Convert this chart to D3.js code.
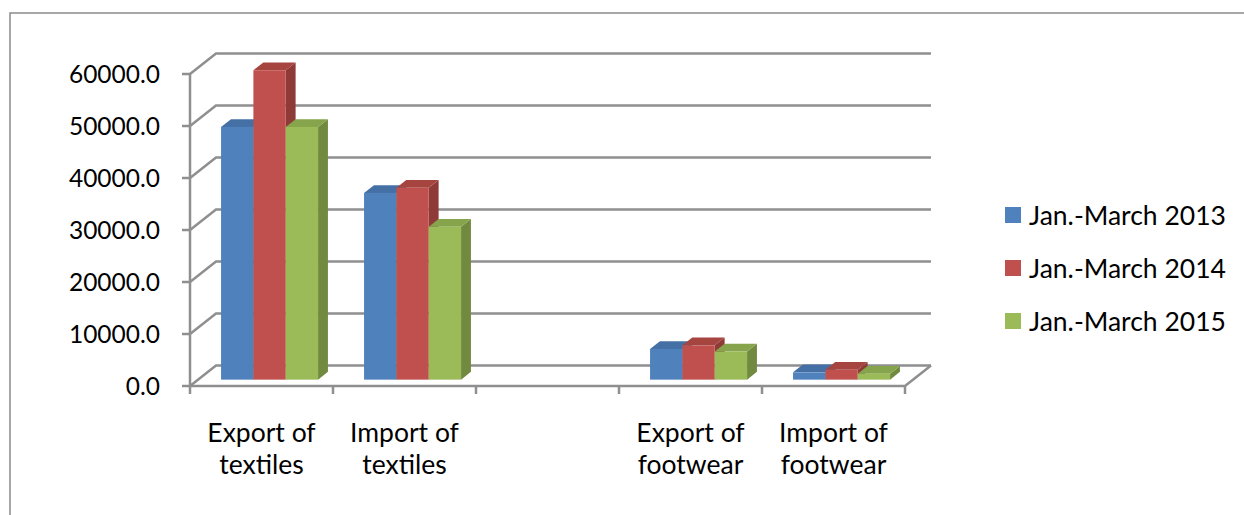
<!DOCTYPE html>
<html>
<head>
<meta charset="utf-8">
<script src="https://cdn.jsdelivr.net/npm/d3@7"></script>
<style>
  html, body { margin: 0; padding: 0; background: #fff; }
  svg { display: block; }
  text { font-family: Lato, "Open Sans", sans-serif; fill: #000; }
</style>
</head>
<body>
<svg id="chart" width="1244" height="515"></svg>
<script>
// Category slots along the floor (the empty slot is left blank)
const categories = ["Export of\ntextiles", "Import of\ntextiles", "", "Export of\nfootwear", "Import of\nfootwear"];
const seriesNames = ["Jan.-March 2013", "Jan.-March 2014", "Jan.-March 2015"];
const values2013 = [48600, 35900, null, 5900, 1400];
const values2014 = [59500, 36900, null, 6600, 1900];
const values2015 = [48600, 29400, null, 5400, 1150];
const yTicks = [0, 10000, 20000, 30000, 40000, 50000, 60000];

const frontColors = ["#4F81BD", "#C0504D", "#9BBB59"];
const sideColors  = ["#3A6393", "#8E3A37", "#718A3F"];
const topColors   = ["#4470A6", "#A64440", "#86A44B"];
const gridColor = "#8f8f8f";

const svg = d3.select("#chart");

// Outer frame
svg.append("path")
  .attr("d", "M10,530 L10,13 L1260,13")
  .attr("fill", "none").attr("stroke", "#8a8a8a").attr("stroke-width", 1.5);

// Scales
const x = d3.scaleBand().domain(d3.range(categories.length)).range([190, 905]);
const y = d3.scaleLinear().domain([0, 60000]).range([386, 74]);
const inner = d3.scaleBand().domain(d3.range(seriesNames.length)).range([0, 97]);

// Oblique depth projection: depth 0 = front, 1 = back wall
const DX = 26, DY = -20.5;
const off = t => [DX * t, DY * t];
const barDepth = [0.31, 0.69];

const g = svg.append("g");

// Back wall gridlines with their left-wall diagonals
yTicks.forEach(v => {
  const yy = y(v);
  const [bx, by] = off(1);
  g.append("path")
    .attr("d", `M190,${yy} L${190 + bx},${yy + by} L${x.range()[1] + bx},${yy + by}`)
    .attr("fill", "none").attr("stroke", gridColor).attr("stroke-width", 2.5);
});

// Floor: front edge and right diagonal
{
  const [bx, by] = off(1);
  const x1 = x.range()[1];
  g.append("path")
    .attr("d", `M190,${y(0)} L${x1},${y(0)} L${x1 + bx},${y(0) + by}`)
    .attr("fill", "none").attr("stroke", gridColor).attr("stroke-width", 2.5);
}

// Vertical axis line and ticks
g.append("line")
  .attr("x1", 190).attr("x2", 190).attr("y1", y(60000)).attr("y2", y(0))
  .attr("stroke", gridColor).attr("stroke-width", 2.5);
yTicks.forEach(v => {
  g.append("line")
    .attr("x1", 182).attr("x2", 190).attr("y1", y(v)).attr("y2", y(v))
    .attr("stroke", gridColor).attr("stroke-width", 2.5);
  svg.append("text")
    .attr("x", 160).attr("y", y(v)).attr("dy", "0.36em")
    .attr("text-anchor", "end").attr("font-size", 24.5)
    .text(d3.format(".1f")(v));
});

// Category ticks along the front edge of the floor
const bounds = categories.map((c, i) => x(i)).concat([x.range()[1]]);
bounds.forEach(bx => {
  g.append("line")
    .attr("x1", bx).attr("x2", bx).attr("y1", y(0)).attr("y2", y(0) + 8)
    .attr("stroke", gridColor).attr("stroke-width", 2.5);
});

// Bars as prisms: front face, top face, right side face
const allSeries = [values2013, values2014, values2015];
const [fx, fy] = off(barDepth[0]);
const [rx, ry] = off(barDepth[1]);
const ddx = rx - fx, ddy = ry - fy;
const groupPad = (x.bandwidth() - 97) / 2;
const bars = g.append("g");

categories.forEach((c, ci) => {
  allSeries.forEach((vals, si) => {
    const v = vals[ci];
    if (v == null) return;
    const x0 = x(ci) + groupPad + inner(si) + fx;
    const x1 = x0 + inner.bandwidth();
    const yb = y(0) + fy;
    const yt = y(v) + fy;
    // side face
    bars.append("path")
      .attr("d", `M${x1},${yt} L${x1 + ddx},${yt + ddy} L${x1 + ddx},${yb + ddy} L${x1},${yb} Z`)
      .attr("fill", sideColors[si]);
    // top face
    bars.append("path")
      .attr("d", `M${x0},${yt} L${x0 + ddx},${yt + ddy} L${x1 + ddx},${yt + ddy} L${x1},${yt} Z`)
      .attr("fill", topColors[si]);
    // front face
    bars.append("rect")
      .attr("x", x0).attr("y", yt).attr("width", x1 - x0).attr("height", yb - yt)
      .attr("fill", frontColors[si]);
  });
});

// Category labels (two lines each)
categories.forEach((c, ci) => {
  if (!c) return;
  const lines = c.split("\n");
  const t = svg.append("text")
    .attr("x", x(ci) + x.bandwidth() / 2).attr("y", 442)
    .attr("text-anchor", "middle").attr("font-size", 26.5);
  lines.forEach((ln, li) => {
    t.append("tspan").attr("x", x(ci) + x.bandwidth() / 2)
      .attr("dy", li === 0 ? 0 : 32).text(ln);
  });
});

// Legend
const legend = svg.append("g");
seriesNames.forEach((name, i) => {
  const cy = 215 + i * 53;
  legend.append("rect")
    .attr("x", 1005).attr("y", cy - 8).attr("width", 16).attr("height", 16)
    .attr("fill", frontColors[i]);
  legend.append("text")
    .attr("x", 1029).attr("y", cy).attr("dy", "0.36em")
    .attr("font-size", 26.5).text(name);
});
</script>
</body>
</html>
